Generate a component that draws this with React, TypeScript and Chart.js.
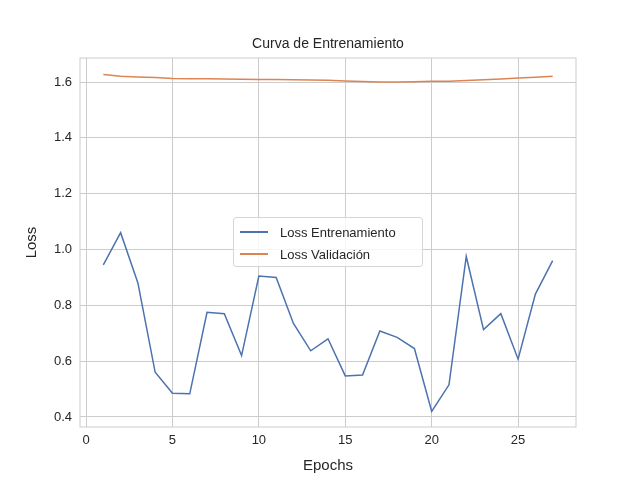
import { useEffect, useRef } from "react";
import { Chart, registerables } from "chart.js";

Chart.register(...registerables);

const epochs = [1, 2, 3, 4, 5, 6, 7, 8, 9, 10, 11, 12, 13, 14, 15, 16, 17, 18, 19, 20, 21, 22, 23, 24, 25, 26, 27];
const trainLoss = [0.945, 1.06, 0.88, 0.56, 0.485, 0.483, 0.775, 0.77, 0.62, 0.905, 0.9, 0.735, 0.637, 0.68, 0.547, 0.55, 0.708, 0.685, 0.645, 0.42, 0.515, 0.975, 0.713, 0.77, 0.607, 0.84, 0.96];
const valLoss = [1.627, 1.621, 1.618, 1.616, 1.613, 1.612, 1.612, 1.611, 1.61, 1.609, 1.609, 1.608, 1.607, 1.606, 1.604, 1.602, 1.6, 1.6, 1.601, 1.603, 1.603, 1.605, 1.608, 1.611, 1.614, 1.617, 1.621];
const xTicks = [0, 5, 10, 15, 20, 25];
const yTicks = [0.4, 0.6, 0.8, 1.0, 1.2, 1.4, 1.6];

const FONT = "'Liberation Sans', Arial, sans-serif";
const BLUE = "#4c72b0";
const ORANGE = "#dd8452";
const TEXT = "#262626";

// frame plus title and axis labels, placed like matplotlib does
const frame = {
  id: "frame",
  afterDatasetsDraw(chart: any) {
    const { ctx, chartArea: a } = chart;
    const cx = (a.left + a.right) / 2;
    const cy = (a.top + a.bottom) / 2;
    ctx.save();
    ctx.strokeStyle = "#cccccc";
    ctx.lineWidth = 1;
    ctx.strokeRect(a.left, a.top, a.right - a.left, a.bottom - a.top);
    ctx.fillStyle = TEXT;
    ctx.textAlign = "center";
    ctx.textBaseline = "middle";
    ctx.font = `14px ${FONT}`;
    ctx.fillText("Curva de Entrenamiento", cx, 44);
    ctx.font = `15px ${FONT}`;
    ctx.fillText("Epochs", cx, 466);
    ctx.translate(32, cy);
    ctx.rotate(-Math.PI / 2);
    ctx.fillText("Loss", 0, 0);
    ctx.restore();
  },
};

export default function App() {
  const ref = useRef<HTMLCanvasElement | null>(null);

  useEffect(() => {
    if (!ref.current) return;
    const chart = new Chart(ref.current, {
      type: "line",
      data: {
        datasets: [
          { label: "Loss Entrenamiento", data: epochs.map((e, i) => ({ x: e, y: trainLoss[i] })), borderColor: BLUE, borderWidth: 1.5, pointRadius: 0, tension: 0 },
          { label: "Loss Validación", data: epochs.map((e, i) => ({ x: e, y: valLoss[i] })), borderColor: ORANGE, borderWidth: 1.5, pointRadius: 0, tension: 0 },
        ],
      },
      options: {
        animation: false,
        responsive: false,
        layout: { padding: { left: 0, right: 64, top: 58, bottom: 0 } },
        plugins: {
          legend: { display: false },
          tooltip: { enabled: false },
        },
        scales: {
          x: {
            type: "linear",
            min: -0.35,
            max: 28.35,
            afterBuildTicks: (s: any) => { s.ticks = xTicks.map((v) => ({ value: v })); },
            afterFit: (s: any) => { s.height = 53; },
            grid: { color: "#cccccc", drawTicks: false },
            border: { display: false },
            ticks: { color: TEXT, padding: 6, font: { family: FONT, size: 13 } },
          },
          y: {
            min: 0.364,
            max: 1.686,
            afterBuildTicks: (s: any) => { s.ticks = yTicks.map((v) => ({ value: v })); },
            afterFit: (s: any) => { s.width = 80; },
            grid: { color: "#cccccc", drawTicks: false },
            border: { display: false },
            ticks: { color: TEXT, padding: 8, font: { family: FONT, size: 13 }, callback: (v: any) => Number(v).toFixed(1) },
          },
        },
      },
      plugins: [frame],
    });
    return () => chart.destroy();
  }, []);

  const row = (color: string, label: string) => (
    <div style={{ display: "flex", alignItems: "center", height: 22 }}>
      <div style={{ width: 28, height: 2, background: color, margin: "0 12px 0 6px" }} />
      <span>{label}</span>
    </div>
  );

  return (
    <div style={{ position: "fixed", left: 0, top: 0, width: 640, height: 480, background: "#fff" }}>
      <canvas ref={ref} width={640} height={480} style={{ width: 640, height: 480 }} />
      <div
        style={{
          position: "absolute", left: 233, top: 217, width: 190, height: 50, boxSizing: "border-box",
          border: "1px solid #d6d6d6", borderRadius: 3, background: "rgba(255,255,255,0.8)",
          fontFamily: FONT, fontSize: 13, color: TEXT, padding: "3px 0",
        }}
      >
        {row(BLUE, "Loss Entrenamiento")}
        {row(ORANGE, "Loss Validación")}
      </div>
    </div>
  );
}
